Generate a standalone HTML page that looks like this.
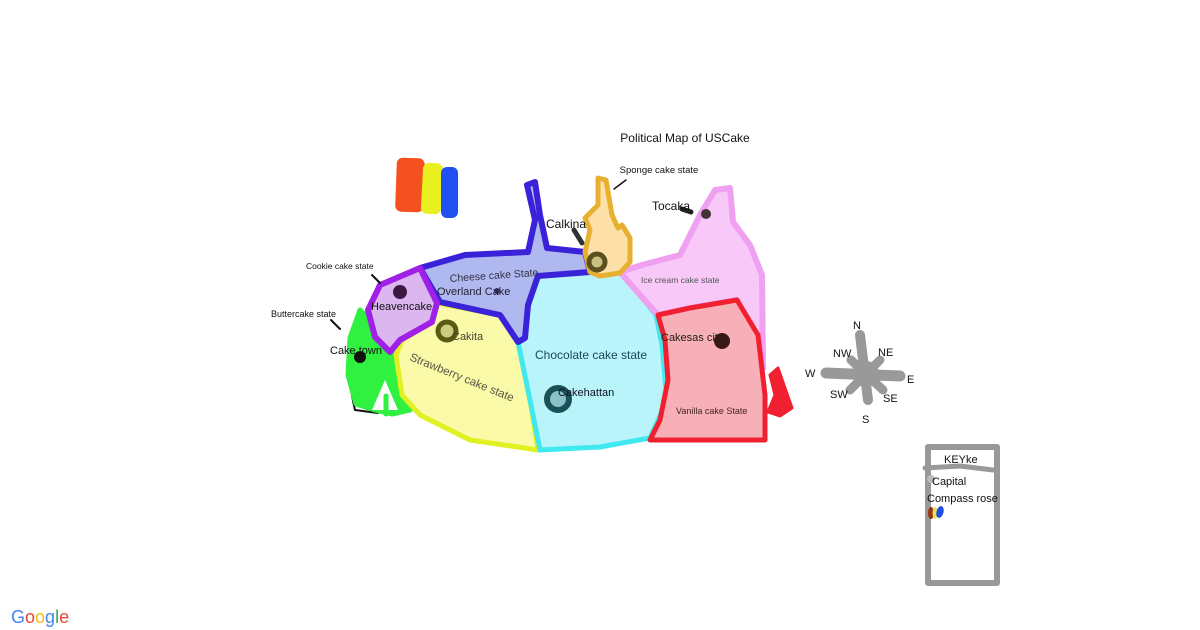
<!DOCTYPE html>
<html><head><meta charset="utf-8"><style>
html,body{margin:0;padding:0;background:#fff;width:1200px;height:630px;overflow:hidden}
svg{display:block}
text{font-family:"Liberation Sans",sans-serif}
</style></head><body>
<svg width="1200" height="630" viewBox="0 0 1200 630" xmlns="http://www.w3.org/2000/svg" stroke-linejoin="round" stroke-linecap="round">
<text x="685" y="142" font-size="12" text-anchor="middle" fill="#111">Political Map of USCake</text>
<!-- flag -->
<rect x="396" y="158" width="28" height="54" rx="6" fill="#f55020" transform="rotate(2 410 185)"/>
<rect x="422" y="163" width="20" height="51" rx="6" fill="#e8f020" transform="rotate(3 432 188)"/>
<rect x="441" y="167" width="17" height="51" rx="6" fill="#2050f0"/>
<!-- outline black -->
<path d="M355,330 Q345,370 355,410 L378,413" fill="none" stroke="#111" stroke-width="2"/>
<!-- buttercake green -->
<path d="M360,310 L372,322 L392,352 L402,375 L410,410 L392,414 L375,410 L356,404 L348,375 L350,338Z" fill="#30f040" stroke="#30f040" stroke-width="5"/>
<path d="M372,410 L385,380 L398,410Z" fill="#fff"/>
<path d="M386,396 L386,414" stroke="#30f040" stroke-width="5"/>
<!-- strawberry -->
<path d="M437,303 L500,315 L518,342 L530,400 L538,450 L470,440 L420,415 L402,395 L396,355 L402,340 L432,322Z" fill="#fafaa8" stroke="#e0f020" stroke-width="5"/>
<!-- chocolate -->
<path d="M538,276 L592,272 L620,272 L640,295 L656,315 L662,345 L667,400 L650,438 L600,447 L540,450 L530,400 L518,342 L525,338 L528,305Z" fill="#b8f4fa" stroke="#40e8f0" stroke-width="5"/>
<!-- ice cream -->
<path d="M620,272 L642,265 L680,255 L700,215 L715,190 L730,188 L733,222 L750,245 L762,275 L763,368 L755,340 L737,300 L690,308 L658,315 L640,295Z" fill="#f8c8f8" stroke="#f0a0f0" stroke-width="6"/>
<!-- vanilla -->
<path d="M658,315 L690,308 L737,300 L758,335 L765,395 L765,440 L710,440 L650,440 L660,420 L668,380 L665,340Z" fill="#f8b0b8" stroke="#f02030" stroke-width="5"/>
<path d="M770,375 L778,368 L792,408 L780,416 L768,412 L775,395Z" fill="#f02030" stroke="#f02030" stroke-width="3"/>
<!-- cheese -->
<path d="M420,268 L465,255 L528,252 L535,220 L527,185 L535,182 L540,215 L547,248 L585,252 L590,272 L538,276 L528,305 L525,338 L518,342 L500,315 L440,302Z" fill="#b0b8f0" stroke="#3a22d8" stroke-width="6"/>
<!-- heavencake -->
<path d="M420,268 L437,303 L432,322 L400,340 L390,352 L375,337 L368,310 L380,285Z" fill="#dcb6ee" stroke="#a020e8" stroke-width="6"/>
<!-- sponge -->
<path d="M598,178 L606,180 L612,215 L618,228 L622,225 L627,233 L630,238 L630,262 L620,273 L600,276 L590,272 L585,252 L590,230 L585,218 L598,205Z" fill="#fce0a8" stroke="#e8b030" stroke-width="5"/>
<!-- markers -->
<line x1="574" y1="230" x2="582" y2="243" stroke="#333" stroke-width="5"/>
<line x1="682" y1="209" x2="691" y2="212" stroke="#222" stroke-width="5"/>
<circle cx="706" cy="214" r="5" fill="#433"/>
<circle cx="597" cy="262" r="8" fill="#ccc080" stroke="#5a5020" stroke-width="5"/>
<circle cx="447" cy="331" r="9" fill="#cccc80" stroke="#5a5a10" stroke-width="5"/>
<circle cx="558" cy="399" r="11" fill="#8cc0c8" stroke="#1a5058" stroke-width="6"/>
<circle cx="722" cy="341" r="8" fill="#3a1818"/>
<circle cx="400" cy="292" r="7" fill="#3a1840"/>
<circle cx="360" cy="357" r="6" fill="#111"/>
<circle cx="497" cy="291" r="3" fill="#336"/>
<line x1="614" y1="189" x2="626" y2="180" stroke="#111" stroke-width="1.5"/>
<line x1="372" y1="275" x2="380" y2="283" stroke="#111" stroke-width="2"/>
<line x1="331" y1="320" x2="340" y2="329" stroke="#111" stroke-width="2"/>
<!-- labels -->
<g fill="#111">
<text x="659" y="173" font-size="9.5" text-anchor="middle">Sponge cake state</text>
<text x="652" y="210" font-size="12">Tocaka</text>
<text x="546" y="228" font-size="12">Calkina</text>
<text x="306" y="269" font-size="8.5">Cookie cake state</text>
<text x="271" y="317" font-size="9">Buttercake state</text>
<text x="330" y="354" font-size="11">Cake town</text>
<text x="371" y="310" font-size="11">Heavencake</text>
</g>
<text x="450" y="282" font-size="10.5" fill="#334" transform="rotate(-4 450 282)">Cheese cake State</text>
<text x="437" y="295" font-size="11" fill="#223">Overland Cake</text>
<text x="452" y="340" font-size="11" fill="#443">Cakita</text>
<text x="409" y="360" font-size="11.5" fill="#554" transform="rotate(22 409 360)">Strawberry cake state</text>
<text x="535" y="359" font-size="12" fill="#1a4a55">Chocolate cake state</text>
<text x="558" y="396" font-size="11" fill="#112">Cakehattan</text>
<text x="641" y="283" font-size="8.5" fill="#555">Ice cream cake state</text>
<text x="661" y="341" font-size="11" fill="#221">Cakesas city</text>
<text x="676" y="414" font-size="9" fill="#422">Vanilla cake State</text>
<!-- compass -->
<g stroke="#999" stroke-linecap="round" fill="none">
<line x1="860" y1="335" x2="868" y2="400" stroke-width="10"/>
<line x1="826" y1="373" x2="900" y2="376" stroke-width="11"/>
<line x1="851" y1="360" x2="883" y2="390" stroke-width="9"/>
<line x1="880" y1="360" x2="850" y2="390" stroke-width="9"/>
<circle cx="866" cy="374" r="13" fill="#999" stroke="none"/>
</g>
<g font-size="11" fill="#111">
<text x="853" y="329">N</text><text x="833" y="357">NW</text><text x="878" y="356">NE</text>
<text x="805" y="377">W</text><text x="907" y="383">E</text><text x="830" y="398">SW</text>
<text x="883" y="402">SE</text><text x="862" y="423">S</text>
</g>
<!-- key -->
<rect x="928" y="447" width="69" height="136" fill="none" stroke="#999" stroke-width="6"/>
<path d="M925,468 L960,466 L993,470" stroke="#999" stroke-width="5" fill="none"/>
<text x="944" y="463" font-size="11" fill="#111">KEYke</text>
<circle cx="931" cy="479" r="4" fill="#bbb"/>
<text x="932" y="485" font-size="11" fill="#111">Capital</text>
<text x="927" y="502" font-size="11" fill="#111">Compass rose</text>
<ellipse cx="931" cy="513" rx="3" ry="6" fill="#993311"/>
<ellipse cx="935" cy="513" rx="2.5" ry="6" fill="#e8e060"/>
<ellipse cx="940" cy="512" rx="3.5" ry="6" fill="#2050e0" transform="rotate(15 940 512)"/>
<!-- google -->
<text x="11" y="623" font-size="18"><tspan fill="#4285f4">G</tspan><tspan fill="#ea4335">o</tspan><tspan fill="#fbbc05">o</tspan><tspan fill="#4285f4">g</tspan><tspan fill="#34a853">l</tspan><tspan fill="#ea4335">e</tspan></text>
</svg>
</body></html>
